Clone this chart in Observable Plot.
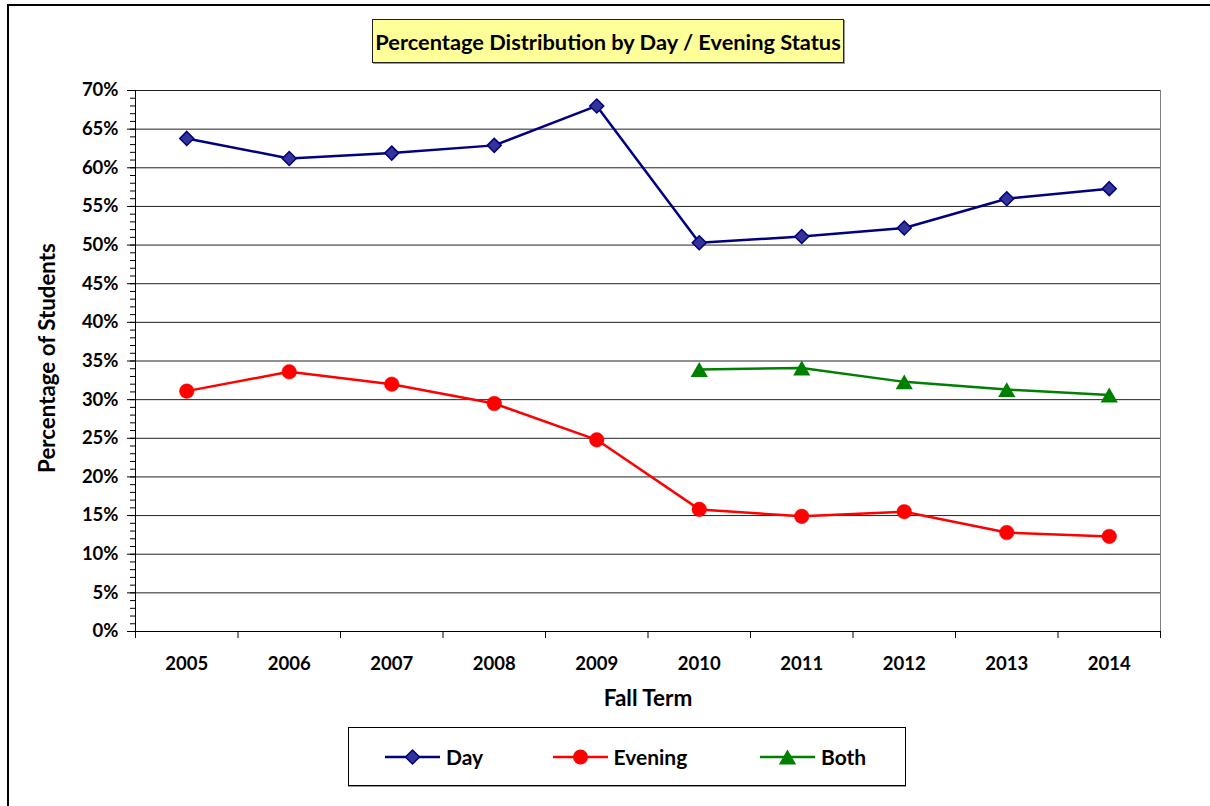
<!DOCTYPE html>
<html>
<head>
<meta charset="utf-8">
<script src="https://cdn.jsdelivr.net/npm/d3@7"></script>
<script src="https://cdn.jsdelivr.net/npm/@observablehq/plot@0.6"></script>
<style>
  html, body { margin: 0; padding: 0; background: #fff; overflow: hidden; }
  body { width: 1210px; height: 806px; position: relative; font-family: Lato, "DejaVu Sans", sans-serif; font-weight: bold; }
  #outer { position: absolute; left: 7px; top: 4px; width: 1300px; height: 900px; border-top: 2px solid #000; border-left: 2px solid #000; box-sizing: border-box; }
  #chart { position: absolute; left: 0; top: 0; }
  #title { position: absolute; left: 372px; top: 19px; width: 472px; height: 44px; box-sizing: border-box; background: #FFFF99; border: 1px solid #222; box-shadow: 1px 1px 0 #999; display: flex; align-items: center; justify-content: center; font-size: 21.8px; color: #000; }
  #legend { position: absolute; left: 348px; top: 727px; width: 558px; height: 59px; box-sizing: border-box; border: 1px solid #000; box-shadow: 0 1px 0 #999; background: #fff; }
  .item { position: absolute; top: 0; height: 57px; display: flex; align-items: center; font-size: 21px; color: #000; }
  .item svg { display: block; margin-right: 6px; }
</style>
</head>
<body>
<div id="chart"></div>
<div id="outer"></div>
<div id="title"></div>
<div id="legend"></div>
<script>
// ---- data ----
const years = [2005, 2006, 2007, 2008, 2009, 2010, 2011, 2012, 2013, 2014];
const dayValues = [63.8, 61.2, 61.9, 62.9, 68.0, 50.3, 51.1, 52.2, 56.0, 57.3];
const eveningValues = [31.1, 33.6, 32.0, 29.5, 24.8, 15.8, 14.9, 15.5, 12.8, 12.3];
const bothYears = [2010, 2011, 2012, 2013, 2014];
const bothValues = [33.9, 34.1, 32.3, 31.3, 30.6];
const yTicks = [0, 5, 10, 15, 20, 25, 30, 35, 40, 45, 50, 55, 60, 65, 70];
const seriesNames = ["Day", "Evening", "Both"];
const chartTitle = "Percentage Distribution by Day / Evening Status";
const xTitle = "Fall Term";
const yTitle = "Percentage of Students";

// ---- styles ----
const dayColor = "#000080", dayFill = "#333399";
const eveningColor = "#FF0000";
const bothColor = "#008000";

const day = years.map((year, i) => ({year, value: dayValues[i]}));
const evening = years.map((year, i) => ({year, value: eveningValues[i]}));
const both = bothYears.map((year, i) => ({year, value: bothValues[i]}));
const boundaries = [years[0] - 0.5, ...years.map(y => y + 0.5)];
const yMinor = d3.range(yTicks[0], yTicks[yTicks.length - 1], 1);

const chart = Plot.plot({
  width: 1210,
  height: 806,
  marginLeft: 135,
  marginRight: 50,
  marginTop: 90,
  marginBottom: 175,
  style: {fontFamily: "Lato, 'DejaVu Sans', sans-serif", fontWeight: "bold", fontSize: "18.5px", color: "#000", background: "transparent", overflow: "visible"},
  x: {type: "linear", domain: [years[0] - 0.5, years[years.length - 1] + 0.5], axis: null},
  y: {domain: [yTicks[0], yTicks[yTicks.length - 1]], axis: null},
  marks: [
    Plot.frame({stroke: "#808080"}),
    Plot.gridY(yTicks, {stroke: "#222", strokeOpacity: 1, strokeWidth: 1}),
    Plot.axisY(yMinor, {tickSize: 5, tickFormat: () => "", label: null, stroke: "#000"}),
    Plot.axisY(yTicks, {tickSize: 8, tickPadding: 9, tickFormat: d => d + "%", label: null, stroke: "#000", fontSize: 18.5}),
    Plot.axisX(boundaries, {tickSize: 7, tickFormat: () => "", label: null, stroke: "#000"}),
    Plot.axisX(years, {tickSize: 0, tickPadding: 25, tickFormat: d => String(d), label: null, fontSize: 18.5}),
    Plot.ruleX([years[0] - 0.5], {stroke: "#000", strokeWidth: 1}),
    Plot.ruleY([yTicks[0]], {stroke: "#000", strokeWidth: 1}),
    Plot.text([xTitle], {frameAnchor: "bottom", dy: 67, textAnchor: "middle", lineAnchor: "middle", fontSize: 22.5, fontWeight: "bold", fill: "#000"}),
    Plot.text([yTitle], {frameAnchor: "left", dx: -88, dy: -3, rotate: -90, textAnchor: "middle", lineAnchor: "middle", fontSize: 22.3, fontWeight: "bold", fill: "#000"}),
    Plot.line(day, {x: "year", y: "value", stroke: dayColor, strokeWidth: 2.5}),
    Plot.line(evening, {x: "year", y: "value", stroke: eveningColor, strokeWidth: 2.5}),
    Plot.line(both, {x: "year", y: "value", stroke: bothColor, strokeWidth: 2.5}),
    Plot.dot(day, {x: "year", y: "value", symbol: "diamond2", r: 6.3, fill: dayFill, stroke: dayColor, strokeWidth: 1.5}),
    Plot.dot(evening, {x: "year", y: "value", symbol: "circle", r: 7.3, fill: eveningColor, stroke: eveningColor, strokeWidth: 0.5}),
    Plot.dot(both, {x: "year", y: "value", symbol: "triangle", r: 6.4, dy: 2.5, fill: bothColor, stroke: "none"})
  ]
});
document.getElementById("chart").appendChild(chart);
document.getElementById("title").textContent = chartTitle;

// ---- legend ----
const legend = document.getElementById("legend");
const legendDefs = [
  {name: seriesNames[0], left: 36, icon: `<line x1="0" y1="10" x2="55" y2="10" stroke="${dayColor}" stroke-width="2.5"/><path d="M27.5,3 L34.5,10 L27.5,17 L20.5,10 Z" fill="${dayFill}" stroke="${dayColor}" stroke-width="1.5"/>`},
  {name: seriesNames[1], left: 203.5, icon: `<line x1="0" y1="10" x2="55" y2="10" stroke="${eveningColor}" stroke-width="2.5"/><circle cx="27.5" cy="10" r="7.5" fill="${eveningColor}"/>`},
  {name: seriesNames[2], left: 411, icon: `<line x1="0" y1="10" x2="55" y2="10" stroke="${bothColor}" stroke-width="2.5"/><path d="M27.5,2.5 L36.2,17.5 L18.8,17.5 Z" fill="${bothColor}"/>`}
];
for (const d of legendDefs) {
  const div = document.createElement("div");
  div.className = "item";
  div.style.left = d.left + "px";
  div.innerHTML = `<svg width="55" height="20" viewBox="0 0 55 20">${d.icon}</svg><span>${d.name}</span>`;
  legend.appendChild(div);
}
</script>
</body>
</html>
